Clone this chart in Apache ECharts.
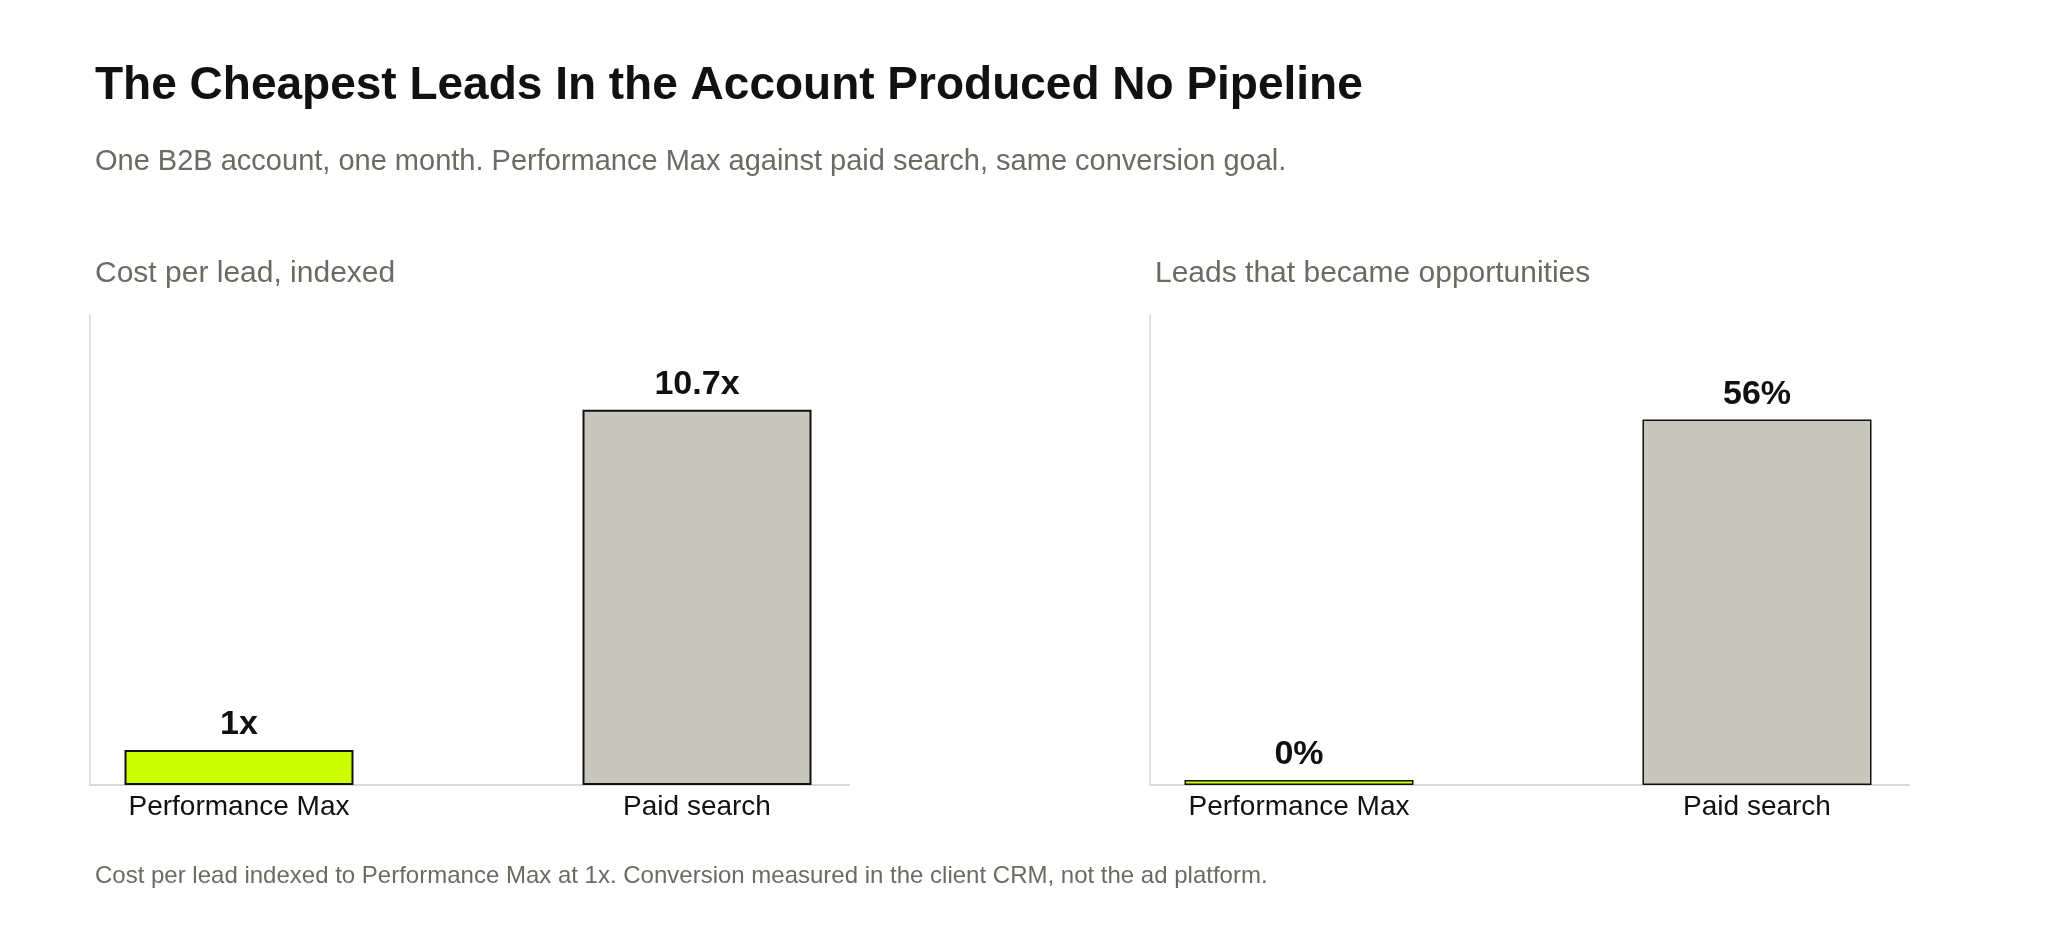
<!DOCTYPE html>
<html>
<head>
<meta charset="utf-8">
<script src="https://cdn.jsdelivr.net/npm/echarts@6/dist/echarts.min.js"></script>
<style>
html, body { margin: 0; padding: 0; background: #fff; }
#chart { width: 2047px; height: 938px; }
</style>
</head>
<body>
<div id="chart"></div>
<script>
// data
let categories = ['Performance Max', 'Paid search'];
let costPerLead = [1, 10.7];
let oppRate = [0, 56];
let barColors = ['#CCFF00', '#C8C7BC'];

let myChart = echarts.init(document.getElementById('chart'));
let font = 'Liberation Sans, Arial, sans-serif';

function barData(values) {
    return values.map(function (v, i) {
        return { value: v, itemStyle: { color: barColors[i] } };
    });
}

let option = {
    backgroundColor: '#fff',
    textStyle: { fontFamily: font },
    title: [{
        text: 'The Cheapest Leads In the Account Produced No Pipeline',
        left: 90, top: 58,
        textStyle: { fontSize: 46, fontWeight: 'bold', color: '#111', fontFamily: font }
    }, {
        text: 'One B2B account, one month. Performance Max against paid search, same conversion goal.',
        left: 90, top: 142,
        textStyle: { fontSize: 29, fontWeight: 'normal', color: '#6b6b63', fontFamily: font }
    }, {
        text: 'Cost per lead, indexed',
        left: 90, top: 254,
        textStyle: { fontSize: 30, fontWeight: 'normal', color: '#6b6b63', fontFamily: font }
    }, {
        text: 'Leads that became opportunities',
        left: 1150, top: 254,
        textStyle: { fontSize: 30, fontWeight: 'normal', color: '#6b6b63', fontFamily: font }
    }, {
        text: 'Cost per lead indexed to Performance Max at 1x. Conversion measured in the client CRM, not the ad platform.',
        left: 90, top: 859,
        textStyle: { fontSize: 24, fontWeight: 'normal', color: '#6b6b63', fontFamily: font }
    }],
    grid: [
        // frames (axis lines only)
        { left: 90, top: 315, width: 759, height: 470 },
        { left: 1150, top: 315, width: 759, height: 470 },
        // bar grids
        { left: 10, top: 315, width: 916, height: 470 },
        { left: 1070, top: 315, width: 916, height: 470 }
    ],
    xAxis: [0, 1].map(function (g) {
        return {
            type: 'value', gridIndex: g, min: 0, max: 1,
            axisLine: { show: true, lineStyle: { color: '#d9d9d9', width: 2 } },
            axisTick: { show: false }, axisLabel: { show: false }, splitLine: { show: false }
        };
    }).concat([2, 3].map(function (g) {
        return {
            type: 'category', gridIndex: g, data: categories,
            axisLine: { show: false },
            axisTick: { show: false },
            axisLabel: { fontSize: 28, color: '#111', margin: 8, fontFamily: font }
        };
    })),
    yAxis: [
        { type: 'value', gridIndex: 0, min: 0, max: 1 },
        { type: 'value', gridIndex: 1, min: 0, max: 1 },
        { type: 'value', gridIndex: 2, min: 0, max: 13.4 },
        { type: 'value', gridIndex: 3, min: 0, max: 72 }
    ].map(function (a) {
        a.axisLine = { show: a.gridIndex < 2, lineStyle: { color: '#e2e2e2', width: 2 } };
        a.axisTick = { show: false };
        a.axisLabel = { show: false };
        a.splitLine = { show: false };
        return a;
    }),
    series: [{
        type: 'bar', xAxisIndex: 2, yAxisIndex: 2,
        barWidth: '50%',
        data: barData(costPerLead),
        itemStyle: { borderColor: '#111', borderWidth: 2 },
        label: {
            show: true, position: 'top', distance: 8,
            formatter: function (p) { return p.value + 'x'; },
            fontSize: 34, fontWeight: 'bold', color: '#111', fontFamily: font
        }
    }, {
        type: 'bar', xAxisIndex: 3, yAxisIndex: 3,
        barWidth: '50%', barMinHeight: 5,
        data: barData(oppRate),
        itemStyle: { borderColor: '#111', borderWidth: 1.5 },
        label: {
            show: true, position: 'top', distance: 8,
            formatter: function (p) { return p.value + '%'; },
            fontSize: 34, fontWeight: 'bold', color: '#111', fontFamily: font
        }
    }]
};
myChart.setOption(option);
</script>
</body>
</html>
